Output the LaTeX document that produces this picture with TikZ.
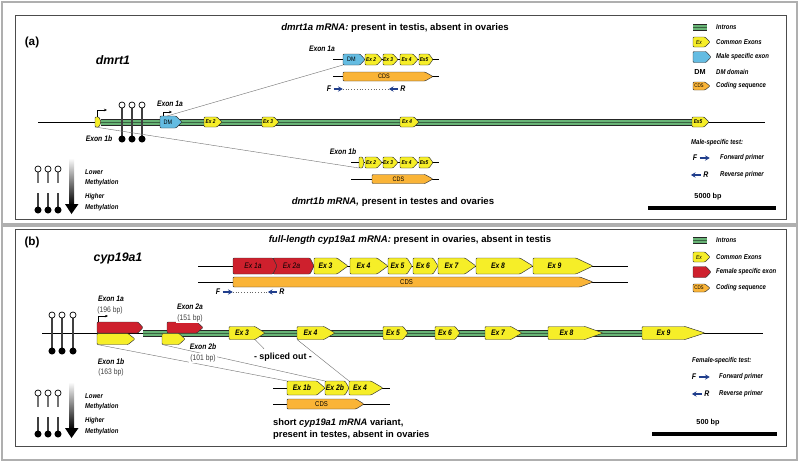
\documentclass[tikz,border=0pt]{standalone}
\usepackage{fontspec}
\setmainfont{Liberation Sans}
\newfontfamily\narrow[FakeStretch=0.85]{Liberation Sans}
\usetikzlibrary{arrows.meta, positioning}

\definecolor{introngreen}{RGB}{104,180,118}
\definecolor{exonyellow}{RGB}{246,238,40}
\definecolor{exonred}{RGB}{206,32,45}
\definecolor{exonblue}{RGB}{100,188,226}
\definecolor{cdsorange}{RGB}{250,180,55}
\definecolor{primerblue}{RGB}{32,62,140}
\definecolor{framegray}{RGB}{175,175,175}

% exon: name, left x, right x, centre y, half height, tip, fill style, label
\newcommand{\exon}[8]{%
  \draw[exon,#7] (#2,#4-#5) -- ({#3-#6},#4-#5) -- (#3,#4) -- ({#3-#6},#4+#5) -- (#2,#4+#5) -- cycle;
  \coordinate (#1-nw) at (#2,#4-#5);
  \coordinate (#1-sw) at (#2,#4+#5);
  \coordinate (#1-se) at ({#3-#6},#4+#5);
  \node[exlabel] (#1) at ({(#2+#3-#6)/2},#4) {#8};
}
% intron band: left x, right x, y
\newcommand{\intron}[3]{%
  \fill[introngreen] (#1,#3-2.8) rectangle (#2,#3+2.8);
  \draw[line width=0.45pt, black!85] (#1,#3-2.8) -- (#2,#3-2.8) (#1,#3+2.8) -- (#2,#3+2.8);
  \draw[line width=0.4pt, introngreen!55!black] (#1,#3) -- (#2,#3);
}
% CpG lollipop: x, y open, y filled
\newcommand{\lolli}[3]{%
  \draw[stem] (#1,#2) -- (#1,#3);
  \draw[ring] (#1,#2) circle (2.6pt);
  \fill (#1,#3) circle (3pt);
}

\begin{document}
\begin{tikzpicture}[x=0.03cm, y=-0.03cm,
  dna/.style={line width=0.7pt, black},
  exon/.style={draw=black!80, line width=0.4pt, rounded corners=0.8pt},
  fillyel/.style={fill=exonyellow},
  fillred/.style={fill=exonred},
  fillblu/.style={fill=exonblue},
  fillcds/.style={fill=cdsorange},
  exlabel/.style={font=\narrow\bfseries\itshape\fontsize{4.8}{5}\selectfont, inner sep=0pt},
  conn/.style={draw=black!55, line width=0.35pt},
  stem/.style={line width=0.9pt, black!75},
  ring/.style={line width=0.6pt, black, fill=white},
  tss/.style={line width=0.4pt, -{Stealth[length=2.6pt, width=2.2pt]}},
  primer/.style={primerblue, line width=0.9pt, -{Stealth[length=4pt, width=4.6pt, inset=1.4pt]}},
  primdots/.style={black!60, dotted, line width=0.4pt},
  prim/.style={font=\narrow\bfseries\itshape\fontsize{7}{8}\selectfont, inner sep=2pt},
  panel/.style={font=\bfseries\fontsize{10}{12}\selectfont},
  gene/.style={font=\bfseries\itshape\fontsize{10.5}{12}\selectfont},
  heading/.style={font=\bfseries\fontsize{8.2}{10}\selectfont},
  lab/.style={font=\narrow\bfseries\itshape\fontsize{6.8}{8}\selectfont, inner sep=0.5pt},
  bp/.style={font=\narrow\fontsize{6.8}{8}\selectfont, text=black!75, fill=white, inner sep=0.8pt},
  leg/.style={font=\narrow\bfseries\itshape\fontsize{6}{7}\selectfont, anchor=west, inner sep=0pt},
  scalebar/.style={line width=2.6pt, black}]

\useasboundingbox (0,0) rectangle (800,462);
\fill[white] (0,0) rectangle (800,462);

% frames
\draw[framegray, line width=1pt] (2,2) rectangle (797,224);
\draw[framegray, line width=1pt] (2,226) rectangle (797,460);
\draw[black!70, line width=0.6pt] (15,15) rectangle (786,219);
\draw[black!70, line width=0.6pt] (15,229) rectangle (786,446);

%%%%%%%%%%%%%%%%%%%% (a) dmrt1
\node[panel] (pa) at (32,42) {(a)};
\node[gene] (ga) at (113,60) {dmrt1};

% gene
\draw[dna] (38,122) -- (765,122);
\intron{101}{700}{122}
\exon{a1b}{95}{101}{122}{5}{2}{fillyel}{}
\exon{aDM}{160}{182}{122}{6}{6}{fillblu}{\normalfont\narrow\fontsize{5.5}{6}\selectfont DM}
\exon{a2}{204}{222}{122}{5}{5}{fillyel}{Ex 2}
\exon{a3}{262}{279}{122}{5}{5}{fillyel}{Ex 3}
\exon{a4}{400}{419}{122}{5}{5}{fillyel}{Ex 4}
\exon{a5}{692}{709}{122}{5}{5}{fillyel}{Ex5}
\draw[tss] (97,117) |- (107,110);
\draw[tss] (163,116) |- (172,112);
\foreach \x in {122,132,142} {\lolli{\x}{105}{139}}
\node[lab] (a1b-lab) at (99,139) {Exon 1b};
\node[lab] (a1a-lab) at (170,104) {Exon 1a};

% dmrt1a mRNA
\node[heading] (ta) at (395,28) {\textit{dmrt1a mRNA:} present in testis, absent in ovaries};
\node[lab] (ma-lab) at (322,49) {Exon 1a};
\draw[dna] (333,59.5) -- (439,59.5);
\exon{ma5}{419}{433}{59.5}{5.5}{4}{fillyel}{Ex5}
\exon{ma4}{400}{418}{59.5}{5.5}{5}{fillyel}{Ex 4}
\exon{ma3}{383}{398}{59.5}{5.5}{5}{fillyel}{Ex 3}
\exon{ma2}{365}{382}{59.5}{5.5}{5}{fillyel}{Ex 2}
\exon{maDM}{343}{365}{59.5}{5.5}{5}{fillblu}{\normalfont\narrow\fontsize{5.5}{6}\selectfont DM}
\draw[dna] (333,76.5) -- (439,76.5);
\exon{macds}{343}{433}{76.5}{4.5}{8}{fillcds}{\normalfont\narrow\fontsize{5.5}{6}\selectfont CDS}
\node[prim] (aF) at (329,89) {F};
\node[prim] (aR) at (403,89) {R};
\draw[primer] (aF.east) -- ++(9,0) coordinate (aF2);
\draw[primer] (aR.west) -- ++(-9,0) coordinate (aR2);
\draw[primdots] (aF2) -- (aR2);

% dmrt1b mRNA
\node[lab] (mb-lab) at (343,152) {Exon 1b};
\draw[dna] (351,162.5) -- (439,162.5);
\exon{mb5}{419}{433}{162.5}{5.5}{4}{fillyel}{Ex5}
\exon{mb4}{400}{418}{162.5}{5.5}{5}{fillyel}{Ex 4}
\exon{mb3}{383}{398}{162.5}{5.5}{5}{fillyel}{Ex 3}
\exon{mb2}{365}{382}{162.5}{5.5}{5}{fillyel}{Ex 2}
\exon{mb1b}{359}{364}{162.5}{5.5}{1.5}{fillyel}{}
\draw[dna] (351,179) -- (439,179);
\exon{mbcds}{372}{433}{179}{4.5}{8}{fillcds}{\normalfont\narrow\fontsize{5.5}{6}\selectfont CDS}
\node[heading] (tb) at (393,202) {\textit{dmrt1b mRNA,} present in testes and ovaries};

% splicing
\draw[conn] ([xshift=6pt]aDM-nw) -- (maDM-sw);
\draw[conn] (a1b-sw) -- (mb1b-sw);

% legend
\intron{693}{707}{27}
\node[leg] (la1) at (716,27) {Introns};
\exon{laex}{693}{710}{42}{5}{5}{fillyel}{\normalfont\narrow\itshape\fontsize{5}{6}\selectfont Ex}
\node[leg] (la2) at (716,42) {Common Exons};
\exon{lablu}{693}{711}{57}{5.5}{5}{fillblu}{}
\node[leg] (la3) at (716,57) {Male specific exon};
\node[font=\bfseries\fontsize{6.2}{7}\selectfont] (ladm) at (700,71.5) {DM};
\node[leg] (la4) at (716,71.5) {DM domain};
\exon{lacds}{693}{710}{86}{4}{5}{fillcds}{\normalfont\narrow\fontsize{4.5}{5}\selectfont CDS}
\node[leg] (la5) at (716,86) {Coding sequence};
\node[leg] (la6) at (691,143) {Male-specific test:};
\node[prim] (laF) at (695,158) {F};
\draw[primer] (laF.east) -- ++(10,0);
\node[leg] (la7) at (720,158) {Forward primer};
\node[prim] (laR) at (706,175) {R};
\draw[primer] (laR.west) -- ++(-10,0);
\node[leg] (la8) at (720,175) {Reverse primer};
\node[font=\bfseries\fontsize{6.2}{7}\selectfont] (sa) at (708,197) {5000 bp};
\coordinate (sa1) at (648,208);
\coordinate (sa2) at (776,208);
\draw[scalebar] (sa1) -- (sa2);

%%%%%%%%%%%%%%%%%%%% (b) cyp19a1
\begin{scope}[exlabel/.style={font=\narrow\bfseries\itshape\fontsize{6.8}{8}\selectfont, inner sep=0pt}]
\node[panel] (pb) at (32,242) {(b)};
\node[gene] (gb) at (118,258) {cyp19a1};

% full-length mRNA
\node[heading] (tc) at (410,240) {\textit{full-length cyp19a1 mRNA:} present in ovaries, absent in testis};
\draw[dna] (198,266) -- (628,266);
\exon{m9}{533}{593}{266}{8}{17}{fillyel}{Ex 9}
\exon{m8}{476}{533}{266}{8}{13}{fillyel}{Ex 8}
\exon{m7}{438}{476}{266}{8}{11}{fillyel}{Ex 7}
\exon{m6}{413}{438}{266}{8}{5}{fillyel}{Ex 6}
\exon{m5}{388}{412}{266}{8}{5}{fillyel}{Ex 5}
\exon{m4}{350}{388}{266}{8}{11}{fillyel}{Ex 4}
\exon{m3}{314}{348}{266}{8}{11}{fillyel}{Ex 3}
\exon{m2a}{273}{314}{266}{8}{4}{fillred}{\mdseries Ex 2a}
\exon{m1a}{233}{277}{266}{8}{4}{fillred}{\mdseries Ex 1a}
\draw[dna] (198,282) -- (628,282);
\exon{mcds}{233}{593}{282}{5}{13}{fillcds}{\normalfont\narrow\fontsize{6}{7}\selectfont CDS}
\node[prim] (bF) at (218,292) {F};
\node[prim] (bR) at (282,292) {R};
\draw[primer] (bF.east) -- ++(10,0) coordinate (bF2);
\draw[primer] (bR.west) -- ++(-9,0) coordinate (bR2);
\draw[primdots] (bF2) -- (bR2);

% gene
\draw[dna] (42,333) -- (763,333);
\intron{143}{642}{333}
\exon{b1a}{97}{143}{327.5}{5.5}{5}{fillred}{}
\exon{b1b}{97}{135}{339}{5.5}{7}{fillyel}{}
\exon{b2a}{167}{203}{327.5}{5.5}{6}{fillred}{}
\exon{b2b}{162}{185}{339}{5.5}{6}{fillyel}{}
\exon{b3}{229}{265}{333}{6.5}{10}{fillyel}{Ex 3}
\exon{b4}{297}{335}{333}{6.5}{11}{fillyel}{Ex 4}
\exon{b5}{383}{408}{333}{6.5}{5}{fillyel}{Ex 5}
\exon{b6}{435}{460}{333}{6.5}{5}{fillyel}{Ex 6}
\exon{b7}{485}{522}{333}{6.5}{11}{fillyel}{Ex 7}
\exon{b8}{548}{603}{333}{6.5}{18}{fillyel}{Ex 8}
\exon{b9}{642}{705}{333}{6.5}{20}{fillyel}{Ex 9}
\draw[tss] (98,322) |- (108,316);
\foreach \x in {52,62,73} {\lolli{\x}{315}{351}}

% short variant
\draw[dna] (273,388) -- (390,388);
\exon{s4}{349}{383}{388}{7}{12}{fillyel}{Ex 4}
\exon{s2b}{325}{349}{388}{7}{4}{fillyel}{Ex 2b}
\exon{s1b}{287}{325}{388}{7}{8}{fillyel}{Ex 1b}
\draw[dna] (273,404) -- (390,404);
\exon{scds}{287}{364}{404}{5}{8}{fillcds}{\normalfont\narrow\fontsize{6}{7}\selectfont CDS}
\node[font=\bfseries\fontsize{8}{10.2}\selectfont, align=left, anchor=west] (tv) at (269,429)
  {short \textit{cyp19a1 mRNA} variant,\\present in testes, absent in ovaries};
\node[font=\bfseries\fontsize{7.6}{9}\selectfont] (spl) at (283,357) {- spliced out -};

% splicing
\draw[conn] (b1b-sw) -- (s1b-nw);
\draw[conn] (b2b-sw) -- (s2b-nw);
\draw[conn] (b4-sw) -- (s4-nw);
\draw[conn] (b3-se) -- ([xshift=12pt]spl.north west);

% exon labels
\node[lab] (b1a-lab) at (111,299) {Exon 1a};
\node[bp] (b1a-bp) at (110,310) {(196 bp)};
\node[lab] (b2a-lab) at (190,307) {Exon 2a};
\node[bp] (b2a-bp) at (190,318) {(151 bp)};
\node[lab] (b2b-lab) at (203,347) {Exon 2b};
\node[bp] (b2b-bp) at (203,358) {(101 bp)};
\node[lab] (b1b-lab) at (111,362) {Exon 1b};
\node[bp] (b1b-bp) at (111,372) {(163 bp)};

% legend
\intron{693}{707}{240}
\node[leg] (lb1) at (716,240) {Introns};
\exon{lbex}{693}{710}{257}{5}{5}{fillyel}{\normalfont\narrow\itshape\fontsize{5}{6}\selectfont Ex}
\node[leg] (lb2) at (716,257) {Common Exons};
\exon{lbred}{693}{711}{272}{5.5}{5}{fillred}{}
\node[leg] (lb3) at (716,272) {Female specific exon};
\exon{lbcds}{693}{710}{288}{4}{5}{fillcds}{\normalfont\narrow\fontsize{4.5}{5}\selectfont CDS}
\node[leg] (lb4) at (716,288) {Coding sequence};
\node[leg] (lb5) at (692,361) {Female-specific test:};
\node[prim] (lbF) at (694,377) {F};
\draw[primer] (lbF.east) -- ++(11,0);
\node[leg] (lb6) at (719,377) {Forward primer};
\node[prim] (lbR) at (707,394) {R};
\draw[primer] (lbR.west) -- ++(-10,0);
\node[leg] (lb7) at (719,394) {Reverse primer};
\node[font=\bfseries\fontsize{6.2}{7}\selectfont] (sb) at (708,423) {500 bp};
\coordinate (sb1) at (652,434);
\coordinate (sb2) at (777,434);
\draw[scalebar] (sb1) -- (sb2);
\end{scope}

%%%%%%%%%%%%%%%%%%%% methylation keys
\foreach \dy in {0,224} {
  \foreach \x in {38,48,58} {
    \draw[stem, black!55] (\x,169+\dy) -- (\x,183+\dy);
    \draw[ring] (\x,169+\dy) circle (2.6pt);
    \draw[stem] (\x,193+\dy) -- (\x,210+\dy);
    \fill (\x,210+\dy) circle (3pt);
  }
  \shade[top color=white, bottom color=black] (69,158+\dy) rectangle (74,205+\dy);
  \fill (65,204+\dy) -- (78.5,204+\dy) -- (71.5,214+\dy) -- cycle;
  \node[leg] (lo\dy) at (85,172+\dy) {Lower};
  \node[leg] (lm\dy) at (85,182.5+\dy) {Methylation};
  \node[leg] (hi\dy) at (85,197+\dy) {Higher};
  \node[leg] (hm\dy) at (85,208+\dy) {Methylation};
}
\end{tikzpicture}
\end{document}
